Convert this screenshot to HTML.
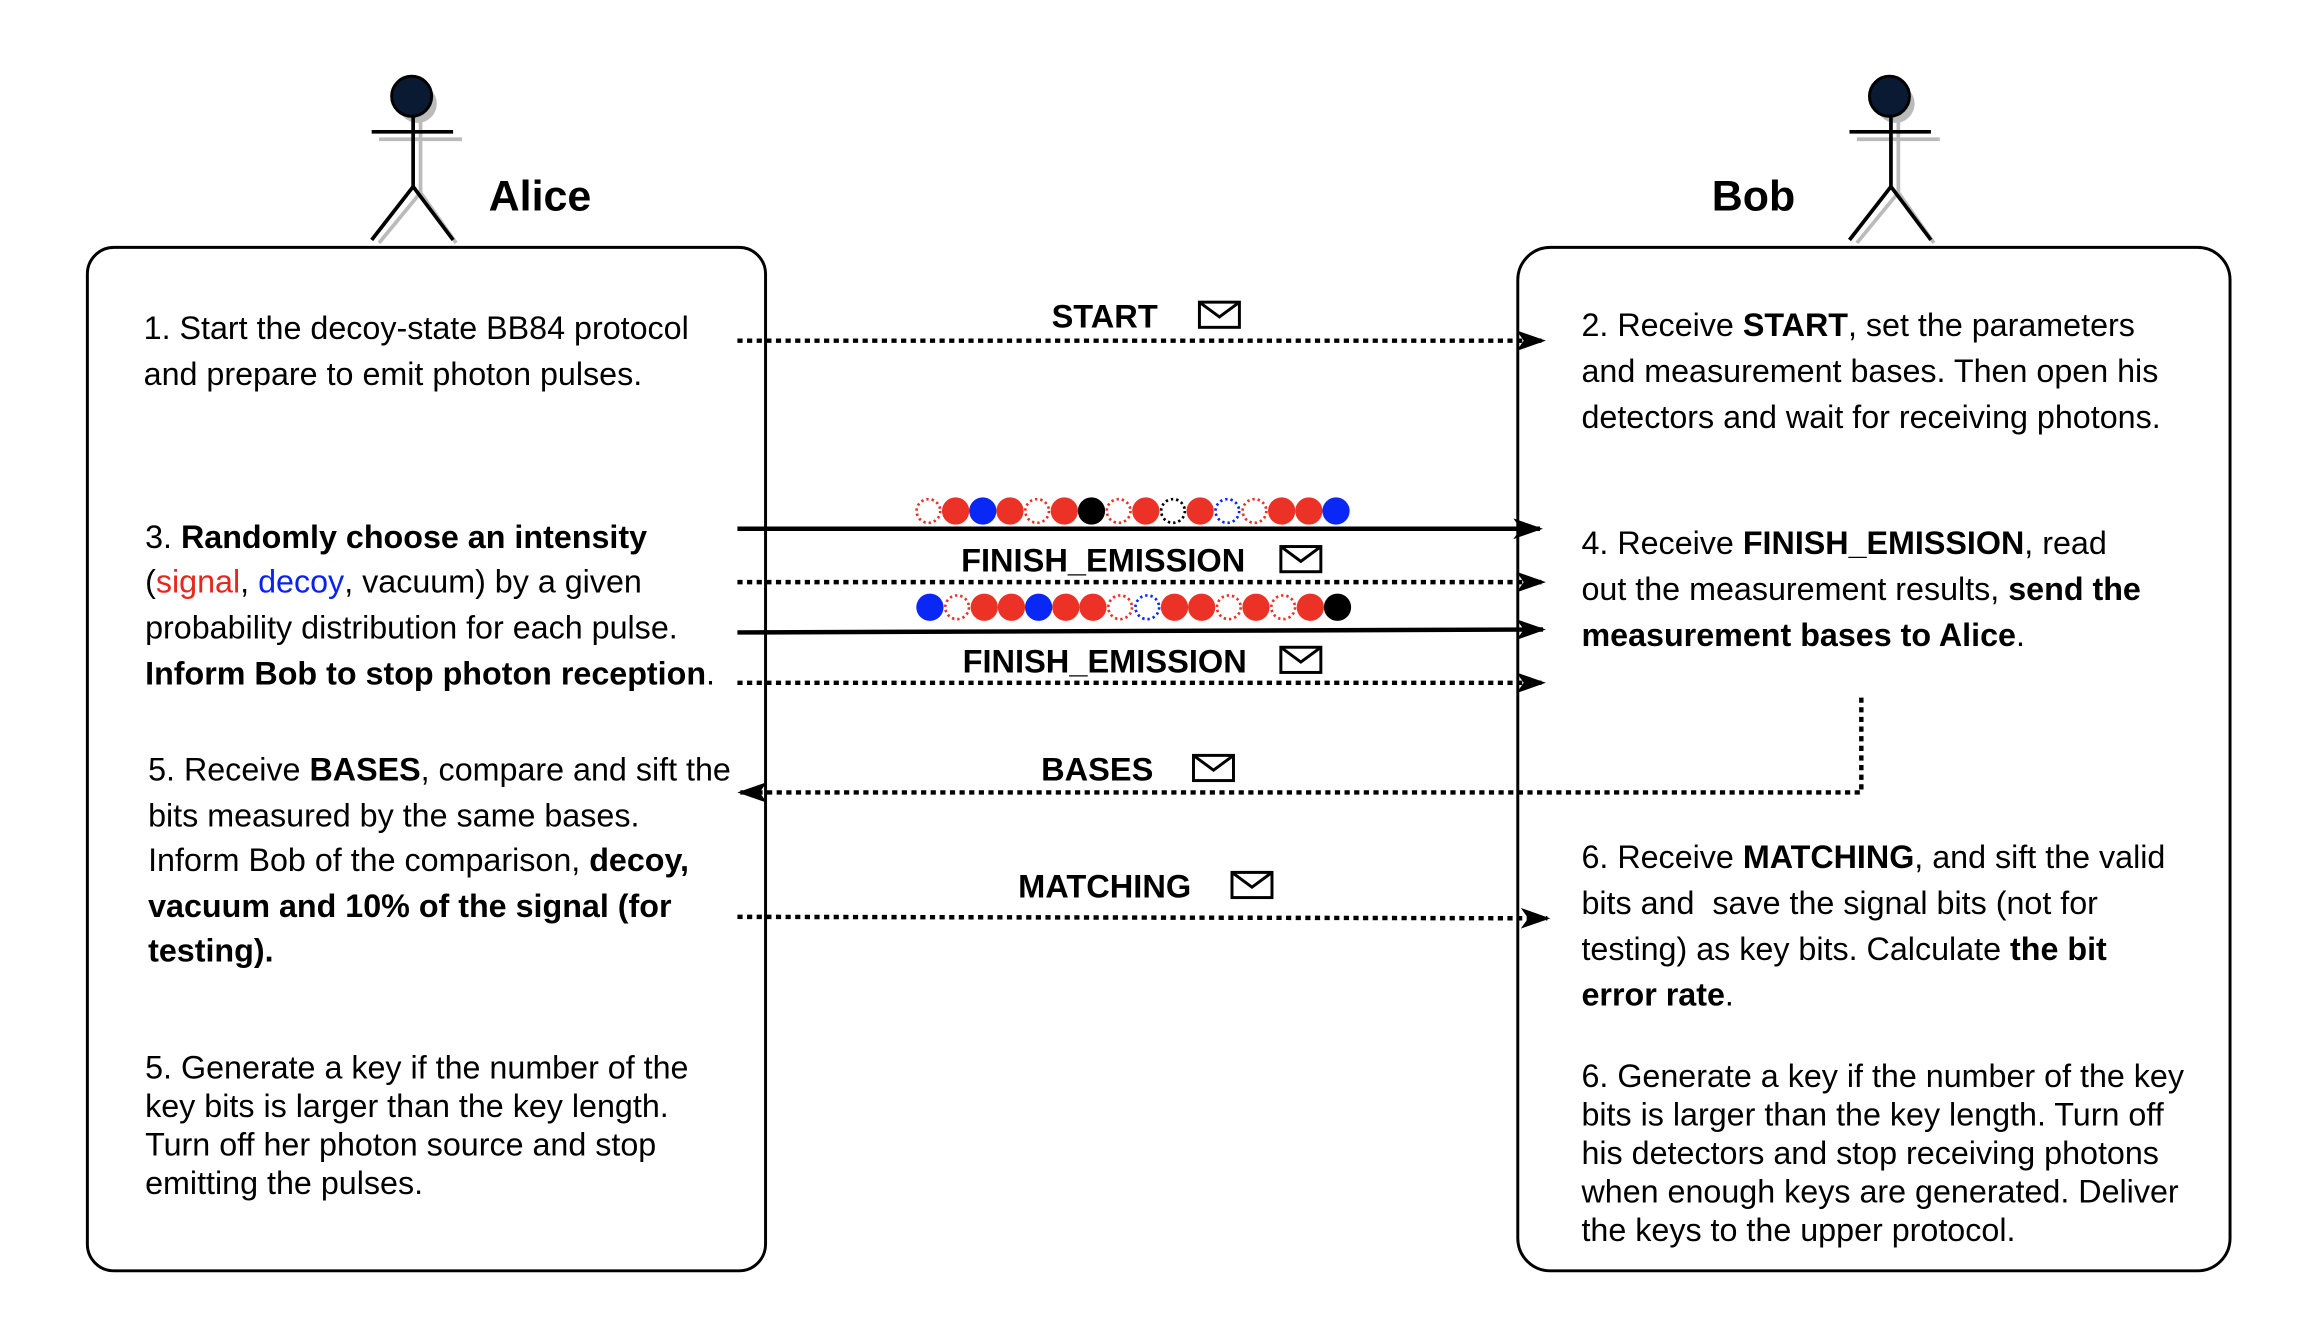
<!DOCTYPE html>
<html><head><meta charset="utf-8"><style>
html,body{margin:0;padding:0;background:#fff;}
svg{display:block;}
text{font-family:"Liberation Sans",Arial,sans-serif;fill:#000;}
.t{font-size:21.8px;}
.lbl{font-size:22px;font-weight:bold;}
</style></head><body>
<svg width="2310" height="1336" viewBox="0 0 1560 902" preserveAspectRatio="none" xmlns="http://www.w3.org/2000/svg">
<defs>
<marker id="ah" viewBox="0 0 20 14" refX="18" refY="7" markerWidth="20" markerHeight="14" markerUnits="userSpaceOnUse" orient="auto">
<path d="M0,0 L20,7 L0,14 L5,7 Z" fill="#000"/></marker>
<g id="env"><rect x="0" y="0" width="27" height="17" fill="#fff" stroke="#000" stroke-width="2"/><path d="M0,0 L13.5,10 L27,0" fill="none" stroke="#000" stroke-width="2"/></g>
</defs>

<g>
<g stroke="#bbb" stroke-width="2.5" fill="none"><circle cx="282" cy="70" r="13" fill="#bbb" stroke="none"/><line x1="256" y1="94" x2="312" y2="94"/><line x1="284" y1="80" x2="284" y2="130"/><line x1="284" y1="130" x2="256" y2="164"/><line x1="284" y1="130" x2="308" y2="164"/></g>
<g stroke="#000" stroke-width="2.5" fill="none"><line x1="251" y1="89" x2="306" y2="89"/><line x1="279" y1="78" x2="279" y2="126"/><line x1="279" y1="126" x2="251" y2="162"/><line x1="279" y1="126" x2="306" y2="162"/></g>
<circle cx="278" cy="65" r="13.5" fill="#0a1a33" stroke="#000" stroke-width="2"/>
<text x="330" y="142" font-size="29" font-weight="bold">Alice</text>
</g>
<g>
<g stroke="#bbb" stroke-width="2.5" fill="none"><circle cx="1280" cy="70" r="13" fill="#bbb" stroke="none"/><line x1="1254" y1="94" x2="1310" y2="94"/><line x1="1282" y1="80" x2="1282" y2="130"/><line x1="1282" y1="130" x2="1254" y2="164"/><line x1="1282" y1="130" x2="1306" y2="164"/></g>
<g stroke="#000" stroke-width="2.5" fill="none"><line x1="1249" y1="89" x2="1304" y2="89"/><line x1="1277" y1="78" x2="1277" y2="126"/><line x1="1277" y1="126" x2="1249" y2="162"/><line x1="1277" y1="126" x2="1304" y2="162"/></g>
<circle cx="1276" cy="65" r="13.5" fill="#0a1a33" stroke="#000" stroke-width="2"/>
<text x="1156" y="142" font-size="29" font-weight="bold">Bob</text>
</g>

<rect x="59" y="167" width="458" height="691" rx="18" fill="none" stroke="#000" stroke-width="2"/>
<rect x="1025" y="167" width="481" height="691" rx="22" fill="none" stroke="#000" stroke-width="2"/>

<g stroke="#000" stroke-width="3" fill="none">
<line x1="498" y1="230" x2="1042" y2="230" stroke-dasharray="3.5 3" marker-end="url(#ah)"/>
<line x1="498" y1="357" x2="1040" y2="357" marker-end="url(#ah)"/>
<line x1="498" y1="393" x2="1042" y2="393" stroke-dasharray="3.5 3" marker-end="url(#ah)"/>
<line x1="498" y1="427" x2="1042" y2="425" marker-end="url(#ah)"/>
<line x1="498" y1="461" x2="1042" y2="461" stroke-dasharray="3.5 3" marker-end="url(#ah)"/>
<polyline points="1257,471 1257,535 500,535" stroke-dasharray="3.5 3" marker-end="url(#ah)"/>
<line x1="498" y1="619" x2="1045" y2="620" stroke-dasharray="3.5 3" marker-end="url(#ah)"/>
</g>

<text x="746" y="221" class="lbl" text-anchor="middle">START</text>
<use href="#env" x="810" y="204"/>
<text x="745" y="386" class="lbl" text-anchor="middle">FINISH_EMISSION</text>
<use href="#env" x="865" y="369"/>
<text x="746" y="454" class="lbl" text-anchor="middle">FINISH_EMISSION</text>
<use href="#env" x="865" y="437"/>
<text x="741" y="527" class="lbl" text-anchor="middle">BASES</text>
<use href="#env" x="806" y="510"/>
<text x="746" y="606" class="lbl" text-anchor="middle">MATCHING</text>
<use href="#env" x="832" y="589"/>

<g id="dots"></g>

<g>
<text x="97" y="229" class="t">1. Start the decoy-state BB84 protocol</text>
<text x="97" y="260" class="t">and prepare to emit photon pulses.</text>
<text x="98" y="370" class="t">3. <tspan font-weight="bold">Randomly choose an intensity</tspan></text>
<text x="98" y="400" class="t">(<tspan style="fill:#e8261c">signal</tspan>, <tspan style="fill:#0a22f0">decoy</tspan>, vacuum) by a given</text>
<text x="98" y="431" class="t">probability distribution for each pulse.</text>
<text x="98" y="462" class="t"><tspan font-weight="bold">Inform Bob to stop photon reception</tspan>.</text>
<text x="100" y="527" class="t">5. Receive <tspan font-weight="bold">BASES</tspan>, compare and sift the</text>
<text x="100" y="558" class="t">bits measured by the same bases.</text>
<text x="100" y="588" class="t">Inform Bob of the comparison, <tspan font-weight="bold">decoy,</tspan></text>
<text x="100" y="619" class="t" font-weight="bold">vacuum and 10% of the signal (for</text>
<text x="100" y="649" class="t" font-weight="bold">testing).</text>
<text x="98" y="728" class="t">5. Generate a key if the number of the</text>
<text x="98" y="754" class="t">key bits is larger than the key length.</text>
<text x="98" y="780" class="t">Turn off her photon source and stop</text>
<text x="98" y="806" class="t">emitting the pulses.</text>
</g>
<g>
<text x="1068" y="227" class="t">2. Receive <tspan font-weight="bold">START</tspan>, set the parameters</text>
<text x="1068" y="258" class="t">and measurement bases. Then open his</text>
<text x="1068" y="289" class="t">detectors and wait for receiving photons.</text>
<text x="1068" y="374" class="t">4. Receive <tspan font-weight="bold">FINISH_EMISSION</tspan>, read</text>
<text x="1068" y="405" class="t">out the measurement results, <tspan font-weight="bold">send the</tspan></text>
<text x="1068" y="436" class="t"><tspan font-weight="bold">measurement bases to Alice</tspan>.</text>
<text x="1068" y="586" class="t">6. Receive <tspan font-weight="bold">MATCHING</tspan>, and sift the valid</text>
<text x="1068" y="617" class="t">bits and &#160;save the signal bits (not for</text>
<text x="1068" y="648" class="t">testing) as key bits. Calculate <tspan font-weight="bold">the bit</tspan></text>
<text x="1068" y="679" class="t" font-weight="bold">error rate<tspan font-weight="normal">.</tspan></text>
<text x="1068" y="734" class="t">6. Generate a key if the number of the key</text>
<text x="1068" y="760" class="t">bits is larger than the key length. Turn off</text>
<text x="1068" y="786" class="t">his detectors and stop receiving photons</text>
<text x="1068" y="812" class="t">when enough keys are generated. Deliver</text>
<text x="1068" y="838" class="t">the keys to the upper protocol.</text>
</g>
</svg>
<script>
// pulse sequences: R=signal, B=decoy, K=vacuum; lowercase = outlined (dotted)
const row1 = ['r','R','B','R','r','R','K','r','R','k','R','b','r','R','R','B'];
const row2 = ['B','r','R','R','B','R','R','r','b','R','R','r','R','r','R','K'];
const colors = {r:'#ec3226', b:'#0a28f5', k:'#000'};
const NS='http://www.w3.org/2000/svg';
const g=document.getElementById('dots');
function drawRow(arr,x0,y){
  arr.forEach((c,i)=>{
    const el=document.createElementNS(NS,'circle');
    el.setAttribute('cx',x0+i*18.35);el.setAttribute('cy',y);
    const low=c===c.toLowerCase();const col=colors[c.toLowerCase()];
    if(low){el.setAttribute('r',8);el.setAttribute('fill','#fff');el.setAttribute('stroke',col);el.setAttribute('stroke-width',1.8);el.setAttribute('stroke-dasharray','1.6 2');}
    else{el.setAttribute('r',9.2);el.setAttribute('fill',col);}
    
    
    g.appendChild(el);
  });
}
drawRow(row1,627,345);
drawRow(row2,628,410);
</script>
</body></html>
